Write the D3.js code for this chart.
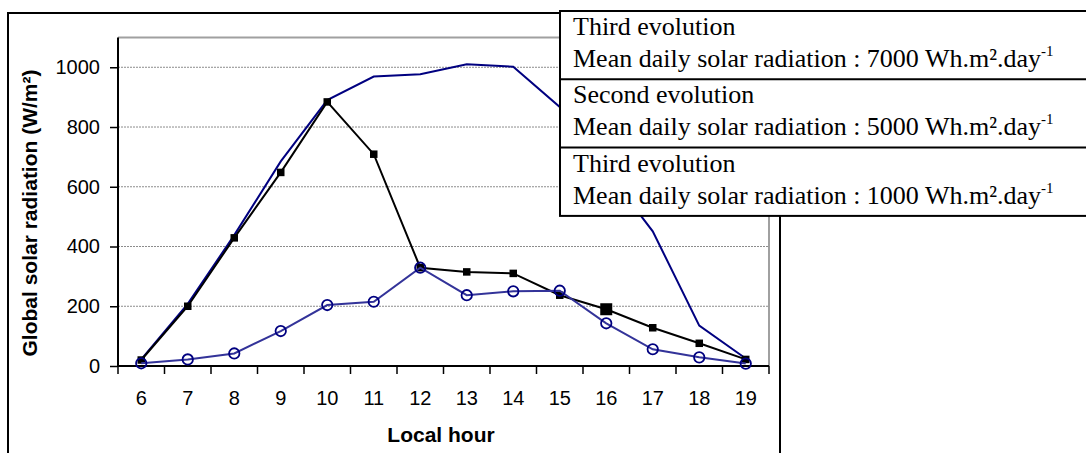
<!DOCTYPE html>
<html>
<head>
<meta charset="utf-8">
<script src="https://cdn.jsdelivr.net/npm/d3@7"></script>
<style>
  html, body { margin: 0; padding: 0; background: #fff; }
  svg { display: block; }
</style>
</head>
<body>
<svg id="chart" width="1086" height="453"></svg>
<script>
// ---- data ----
const hours = [6, 7, 8, 9, 10, 11, 12, 13, 14, 15, 16, 17, 18, 19];
const third7000 = [22, 208, 438, 685, 890, 969, 977, 1010, 1002, 867, 655, 451, 135, 25];
const second5000 = [20, 200, 429, 648, 884, 709, 329, 315, 310, 237, 190, 128, 76, 22];
const third1000 = [9, 22, 42, 117, 204, 215, 329, 237, 250, 252, 143, 56, 29, 8];
const yTicks = [0, 200, 400, 600, 800, 1000];
const legendRows = [
  { title: "Third evolution", line: "Mean daily solar radiation : 7000 Wh.m\u00B2.day", sup: "-1" },
  { title: "Second evolution", line: "Mean daily solar radiation : 5000 Wh.m\u00B2.day", sup: "-1" },
  { title: "Third evolution", line: "Mean daily solar radiation : 1000 Wh.m\u00B2.day", sup: "-1" }
];
const xTitle = "Local hour";
const yTitle = "Global solar radiation (W/m\u00B2)";
const bigMarkerHour = 16;

// ---- layout ----
const svg = d3.select("#chart");
const plot = { left: 118, right: 769, top: 37.4, bottom: 366 };
const x = d3.scaleBand().domain(hours).range([plot.left, plot.right]);
const y = d3.scaleLinear().domain([0, 1100]).range([plot.bottom, plot.top]);
const cx = h => x(h) + x.bandwidth() / 2;

// outer frame
svg.append("rect").attr("x", 8).attr("y", 13).attr("width", 772).attr("height", 460)
  .attr("fill", "none").attr("stroke", "#000").attr("stroke-width", 2);

// gridlines
svg.append("g").selectAll("line").data(yTicks.filter(d => d > 0)).join("line")
  .attr("x1", plot.left).attr("x2", plot.right)
  .attr("y1", d => y(d)).attr("y2", d => y(d))
  .attr("stroke", "#8c8c8c").attr("stroke-width", 1).attr("stroke-dasharray", "2,1");

// plot border top/right (grey)
svg.append("path")
  .attr("d", `M${plot.left},${plot.top}H${plot.right}V${plot.bottom}`)
  .attr("fill", "none").attr("stroke", "#a0a0a0").attr("stroke-width", 2);

// y axis
const yAxis = svg.append("g").attr("transform", `translate(${plot.left},0)`)
  .call(d3.axisLeft(y).tickValues(yTicks).tickSize(8).tickPadding(10).tickFormat(d3.format("d")));
yAxis.select(".domain").attr("d", `M0,${plot.top}V${plot.bottom}`).attr("stroke", "#000").attr("stroke-width", 2);
yAxis.selectAll(".tick line").attr("stroke", "#000").attr("stroke-width", 1.5);
yAxis.selectAll(".tick text").attr("font-family", "Liberation Sans, Arial, sans-serif")
  .attr("font-size", 20).attr("fill", "#000");

// x axis
const xAxis = svg.append("g").attr("transform", `translate(0,${plot.bottom})`)
  .call(d3.axisBottom(x).tickSize(0).tickPadding(24));
xAxis.select(".domain").attr("d", `M${plot.left},0H${plot.right}`).attr("stroke", "#000").attr("stroke-width", 2);
xAxis.selectAll(".tick text").attr("font-family", "Liberation Sans, Arial, sans-serif")
  .attr("font-size", 20).attr("fill", "#000").attr("dy", 0).attr("y", 39);
xAxis.append("g").selectAll("line").data(hours.concat([null])).join("line")
  .attr("x1", (d, i) => plot.left + i * x.step()).attr("x2", (d, i) => plot.left + i * x.step())
  .attr("y1", 0).attr("y2", 8).attr("stroke", "#000").attr("stroke-width", 1.5);

// axis titles
svg.append("text").attr("x", 441).attr("y", 442)
  .attr("text-anchor", "middle").attr("font-family", "Liberation Sans, Arial, sans-serif")
  .attr("font-weight", "bold").attr("font-size", 21).attr("fill", "#000").text(xTitle);
svg.append("text").attr("transform", "translate(37,213) rotate(-90)")
  .attr("text-anchor", "middle").attr("font-family", "Liberation Sans, Arial, sans-serif")
  .attr("font-weight", "bold").attr("font-size", 21).attr("fill", "#000").text(yTitle);

// series
const line = d3.line().x((d, i) => cx(hours[i])).y(d => y(d));
svg.append("path").datum(third7000).attr("d", line)
  .attr("fill", "none").attr("stroke", "#000080").attr("stroke-width", 2);

svg.append("path").datum(second5000).attr("d", line)
  .attr("fill", "none").attr("stroke", "#000").attr("stroke-width", 2);
svg.append("g").selectAll("rect").data(second5000).join("rect")
  .each(function (d, i) {
    const s = hours[i] === bigMarkerHour ? 12 : 7.5;
    d3.select(this).attr("x", cx(hours[i]) - s / 2).attr("y", y(d) - s / 2)
      .attr("width", s).attr("height", s);
  })
  .attr("fill", "#000");

svg.append("path").datum(third1000).attr("d", line)
  .attr("fill", "none").attr("stroke", "#333399").attr("stroke-width", 2);
svg.append("g").selectAll("circle").data(third1000).join("circle")
  .attr("cx", (d, i) => cx(hours[i])).attr("cy", d => y(d)).attr("r", 5.2)
  .attr("fill", "none").attr("stroke", "#000080").attr("stroke-width", 1.8);

// legend box
const lg = svg.append("g");
const lgLeft = 560, lgTop = 11, rowH = 68.3;
lg.append("rect").attr("x", lgLeft).attr("y", lgTop).attr("width", 540).attr("height", rowH * 3)
  .attr("fill", "#fff").attr("stroke", "#000").attr("stroke-width", 2);
legendRows.forEach((r, i) => {
  const top = lgTop + i * rowH;
  if (i > 0) lg.append("line").attr("x1", lgLeft).attr("x2", 1100).attr("y1", top).attr("y2", top)
    .attr("stroke", "#000").attr("stroke-width", 2);
  lg.append("text").attr("x", 573).attr("y", top + 24)
    .attr("font-family", "Liberation Serif, Times New Roman, serif").attr("font-size", 26)
    .attr("fill", "#000").text(r.title);
  const t = lg.append("text").attr("x", 573).attr("y", top + 56)
    .attr("font-family", "Liberation Serif, Times New Roman, serif").attr("font-size", 26)
    .attr("fill", "#000");
  t.append("tspan").text(r.line);
  t.append("tspan").attr("font-size", 15).attr("dy", -11).text(r.sup);
});
</script>
</body>
</html>
